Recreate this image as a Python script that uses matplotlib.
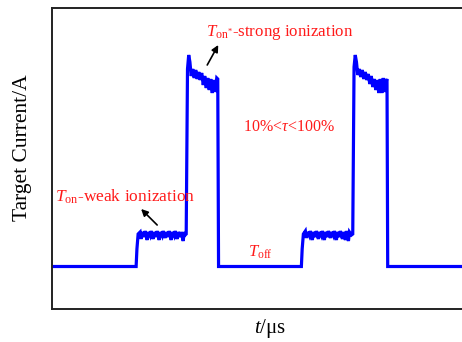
import matplotlib
matplotlib.use("Agg")
import matplotlib.pyplot as plt

plt.rcParams['font.family'] = ['Liberation Serif', 'DejaVu Serif']
plt.rcParams['mathtext.fontset'] = 'custom'
plt.rcParams['mathtext.rm'] = 'Liberation Serif'
plt.rcParams['mathtext.it'] = 'Liberation Serif:italic'

# time (arbitrary units) and target current (arbitrary units)
time = [0, 84, 84.8, 86,
        88, 89, 90, 92, 93, 95, 96, 98, 99, 101, 102, 104, 105, 107, 108, 110,
        111, 113, 114, 116, 117, 119, 120, 122, 123, 125, 126, 128, 129, 131, 132, 133,
        134, 135.3, 136.5, 137.7, 139, 140.5, 142, 143.5, 145, 146.5, 148, 149.5, 151,
        152.5, 154, 155.5, 157, 158.5, 160, 161.5, 163, 164.5, 165.5, 166.3,
        249, 249.8, 251,
        253, 254, 255, 257, 258, 260, 261, 263, 264, 266, 267, 269, 270, 272, 273, 275,
        276, 278, 279, 281, 282, 284, 285, 287, 288, 290, 291, 293, 294, 296, 297, 299,
        300.3, 301.6, 302.8, 304, 305.3, 306.8, 308.3, 309.8, 311.3, 312.8, 314.3, 315.8, 317.3,
        318.8, 320.3, 321.8, 323.3, 324.8, 326.3, 327.8, 329.3, 330.8, 332.3, 333.5, 334.5, 335.2,
        410]
current = [42.5, 42.5, 60, 75,
           77, 70, 77, 72, 78, 69, 77, 73, 78, 70, 77, 72, 78, 69, 77, 73,
           78, 71, 77, 72, 78, 69, 77, 73, 78, 70, 77, 72, 77, 68, 77, 74,
           75, 240, 254, 247, 233, 240, 231, 239, 230, 237, 229, 236, 224,
           233, 221, 231, 219, 230, 216, 229, 217, 231, 230, 42.5,
           42.5, 60, 75,
           78, 71, 77, 73, 78, 69, 77, 72, 78, 70, 77, 73, 78, 69, 77, 72,
           78, 71, 77, 73, 78, 69, 77, 72, 78, 70, 77, 69, 78, 68, 77, 74,
           75, 242, 254, 247, 234, 240, 232, 239, 230, 237, 229, 235, 225,
           233, 222, 230, 219, 229, 216, 230, 216, 231, 217, 228, 230, 42.5,
           42.5]

fig = plt.figure(figsize=(4.62, 3.42), dpi=100)
ax = fig.add_axes([52/462, 33/342, 1 - 52/462 + 0.01, 301/342])
ax.plot(time, current, color='#0000ff', lw=2.3, solid_joinstyle='miter')
ax.set_xlim(0, 414)
ax.set_ylim(0, 301)
ax.set_xticks([])
ax.set_yticks([])
for s in ['left', 'top', 'bottom']:
    ax.spines[s].set_linewidth(1.4)
    ax.spines[s].set_color('#222222')
ax.spines['right'].set_visible(False)

ax.set_ylabel('Target Current/A', fontsize=15.5)
ax.yaxis.set_label_coords(-0.048, 0.535)
ax.set_xlabel('$\\it{t}$/μs', fontsize=15)
ax.xaxis.set_label_coords(0.527, -0.025)

red = '#ff1a1a'
ax.text(3, 112, '$T_{\\mathrm{on}}$-weak ionization', color=red, fontsize=12.5,
        va='center', ha='left')
ax.annotate('', xy=(89, 100), xytext=(105, 84),
            arrowprops=dict(arrowstyle='-|>', color='black', lw=1.2,
                            mutation_scale=10, shrinkA=0, shrinkB=0))
ax.text(154, 277, '$T_{\\mathrm{on}^{*}}$-strong ionization', color=red, fontsize=12.2,
        va='center', ha='left')
ax.annotate('', xy=(166, 264), xytext=(155, 244),
            arrowprops=dict(arrowstyle='-|>', color='black', lw=1.2,
                            mutation_scale=10, shrinkA=0, shrinkB=0))
ax.text(191, 182, '10%<$\\it{τ}$<100%', color=red, fontsize=11.5, va='center', ha='left')
ax.text(196, 57, '$T_{\\mathrm{off}}$', color=red, fontsize=12, va='center', ha='left')

fig.savefig('out.png', dpi=100)
